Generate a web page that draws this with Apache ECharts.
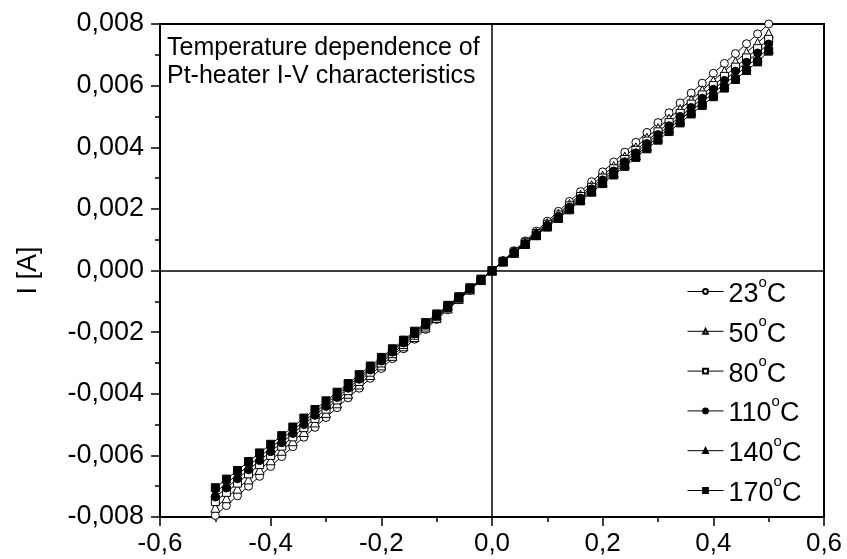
<!DOCTYPE html>
<html>
<head>
<meta charset="utf-8">
<script src="https://cdn.jsdelivr.net/npm/echarts@6/dist/echarts.min.js"></script>
<style>
  html, body { margin: 0; padding: 0; background: #fff; }
  #chart { width: 847px; height: 559px; }
</style>
</head>
<body>
<div id="chart"></div>
<script>
// voltage [V]
const voltage = [
  -0.50, -0.48, -0.46, -0.44, -0.42, -0.40, -0.38, -0.36, -0.34, -0.32,
  -0.30, -0.28, -0.26, -0.24, -0.22, -0.20, -0.18, -0.16, -0.14, -0.12,
  -0.10, -0.08, -0.06, -0.04, -0.02, 0.00, 0.02, 0.04, 0.06, 0.08,
  0.10, 0.12, 0.14, 0.16, 0.18, 0.20, 0.22, 0.24, 0.26, 0.28,
  0.30, 0.32, 0.34, 0.36, 0.38, 0.40, 0.42, 0.44, 0.46, 0.48, 0.50
];

const temperatures = [23, 50, 80, 110, 140, 170];

// current [A] for each temperature
const current23 = [
  -0.00795, -0.00763, -0.00731, -0.00700, -0.00668, -0.00636, -0.00604, -0.00572, -0.00541, -0.00509,
  -0.00477, -0.00445, -0.00413, -0.00382, -0.00350, -0.00318, -0.00286, -0.00254, -0.00223, -0.00191,
  -0.00159, -0.00127, -0.00095, -0.00064, -0.00032, 0.00000, 0.00032, 0.00064, 0.00096, 0.00128,
  0.00160, 0.00192, 0.00224, 0.00256, 0.00288, 0.00320, 0.00352, 0.00384, 0.00416, 0.00448,
  0.00480, 0.00512, 0.00544, 0.00576, 0.00608, 0.00640, 0.00672, 0.00704, 0.00736, 0.00768, 0.00800
];
const current50 = [
  -0.00770, -0.00739, -0.00708, -0.00678, -0.00647, -0.00616, -0.00585, -0.00554, -0.00524, -0.00493,
  -0.00462, -0.00431, -0.00400, -0.00370, -0.00339, -0.00308, -0.00277, -0.00246, -0.00216, -0.00185,
  -0.00154, -0.00123, -0.00092, -0.00062, -0.00031, 0.00000, 0.00031, 0.00062, 0.00092, 0.00123,
  0.00154, 0.00185, 0.00216, 0.00246, 0.00277, 0.00308, 0.00339, 0.00370, 0.00400, 0.00431,
  0.00462, 0.00493, 0.00524, 0.00554, 0.00585, 0.00616, 0.00647, 0.00678, 0.00708, 0.00739, 0.00770
];
const current80 = [
  -0.00750, -0.00720, -0.00690, -0.00660, -0.00630, -0.00600, -0.00570, -0.00540, -0.00510, -0.00480,
  -0.00450, -0.00420, -0.00390, -0.00360, -0.00330, -0.00300, -0.00270, -0.00240, -0.00210, -0.00180,
  -0.00150, -0.00120, -0.00090, -0.00060, -0.00030, 0.00000, 0.00030, 0.00060, 0.00090, 0.00120,
  0.00150, 0.00180, 0.00210, 0.00240, 0.00270, 0.00300, 0.00330, 0.00360, 0.00390, 0.00420,
  0.00450, 0.00480, 0.00510, 0.00540, 0.00570, 0.00600, 0.00630, 0.00660, 0.00690, 0.00720, 0.00750
];
const current110 = [
  -0.00735, -0.00706, -0.00676, -0.00647, -0.00617, -0.00588, -0.00559, -0.00529, -0.00500, -0.00470,
  -0.00441, -0.00412, -0.00382, -0.00353, -0.00323, -0.00294, -0.00265, -0.00235, -0.00206, -0.00176,
  -0.00147, -0.00118, -0.00088, -0.00059, -0.00029, 0.00000, 0.00029, 0.00059, 0.00088, 0.00118,
  0.00147, 0.00176, 0.00206, 0.00235, 0.00265, 0.00294, 0.00323, 0.00353, 0.00382, 0.00412,
  0.00441, 0.00470, 0.00500, 0.00529, 0.00559, 0.00588, 0.00617, 0.00647, 0.00676, 0.00706, 0.00735
];
const current140 = [
  -0.00720, -0.00691, -0.00662, -0.00634, -0.00605, -0.00576, -0.00547, -0.00518, -0.00490, -0.00461,
  -0.00432, -0.00403, -0.00374, -0.00346, -0.00317, -0.00288, -0.00259, -0.00230, -0.00202, -0.00173,
  -0.00144, -0.00115, -0.00086, -0.00058, -0.00029, 0.00000, 0.00029, 0.00058, 0.00086, 0.00115,
  0.00144, 0.00173, 0.00202, 0.00230, 0.00259, 0.00288, 0.00317, 0.00346, 0.00374, 0.00403,
  0.00432, 0.00461, 0.00490, 0.00518, 0.00547, 0.00576, 0.00605, 0.00634, 0.00662, 0.00691, 0.00720
];
const current170 = [
  -0.00705, -0.00677, -0.00649, -0.00620, -0.00592, -0.00564, -0.00536, -0.00508, -0.00479, -0.00451,
  -0.00423, -0.00395, -0.00367, -0.00338, -0.00310, -0.00282, -0.00254, -0.00226, -0.00197, -0.00169,
  -0.00141, -0.00113, -0.00085, -0.00056, -0.00028, 0.00000, 0.00028, 0.00056, 0.00085, 0.00113,
  0.00141, 0.00169, 0.00197, 0.00226, 0.00254, 0.00282, 0.00310, 0.00338, 0.00367, 0.00395,
  0.00423, 0.00451, 0.00479, 0.00508, 0.00536, 0.00564, 0.00592, 0.00620, 0.00649, 0.00677, 0.00712
];

const currents = [current23, current50, current80, current110, current140, current170];
const symbols = ['circle', 'triangle', 'rect', 'circle', 'triangle', 'rect'];
const filled = [false, false, false, true, true, true];
const symbolSizes = [8, 9, 8, 8, 9, 8];

const FONT = '"Liberation Sans", Arial, sans-serif';

const series = temperatures.map((t, i) => ({
  name: t + '°C',
  type: 'line',
  data: voltage.map((v, k) => [v, currents[i][k]]),
  symbol: symbols[i],
  symbolSize: symbolSizes[i],
  showAllSymbol: true,
  lineStyle: { color: '#000', width: 1 },
  itemStyle: {
    color: filled[i] ? '#000' : '#fff',
    borderColor: '#000',
    borderWidth: 1
  },
  emphasis: { disabled: true },
  z: 3
}));

// zero lines through the origin
series.push({
  type: 'line',
  data: [],
  silent: true,
  markLine: {
    silent: true,
    symbol: 'none',
    label: { show: false },
    lineStyle: { color: '#000', width: 1.5, type: 'solid' },
    data: [{ xAxis: 0 }, { yAxis: 0 }]
  },
  z: 1
});

const chart = echarts.init(document.getElementById('chart'));
chart.setOption({
  animation: false,
  backgroundColor: '#fff',
  textStyle: { fontFamily: FONT, color: '#000' },
  grid: {
    left: 160, right: 23, top: 24, bottom: 42,
    show: true, borderColor: '#000', borderWidth: 2
  },
  title: {
    text: 'Temperature dependence of\nPt-heater I-V characteristics',
    left: 162, top: 29,
    textStyle: { fontFamily: FONT, fontSize: 25, fontWeight: 'normal', color: '#000', lineHeight: 28 }
  },
  legend: {
    orient: 'vertical',
    left: 682, top: 270,
    itemWidth: 36, itemHeight: 6,
    itemGap: 6.8,
    data: temperatures.map(t => t + '°C'),
    lineStyle: { width: 1 },
    formatter: name => '{n|' + name.replace('°C', '') + '}{s|o}{n|C}',
    textStyle: {
      rich: {
        n: { fontFamily: FONT, fontSize: 27, color: '#000', padding: [6, 0, 0, 0] },
        s: { fontFamily: FONT, fontSize: 15, color: '#000', verticalAlign: 'top' }
      }
    }
  },
  xAxis: {
    type: 'value',
    min: -0.6, max: 0.6, interval: 0.2,
    axisLine: { onZero: false, lineStyle: { color: '#000', width: 2 } },
    axisTick: { inside: false, length: 9, lineStyle: { color: '#000', width: 1.5 } },
    minorTick: { show: true, splitNumber: 2, length: 5, lineStyle: { color: '#000', width: 1.5 } },
    splitLine: { show: false },
    axisLabel: {
      fontFamily: FONT, fontSize: 26, color: '#000', margin: 14,
      formatter: v => v.toFixed(1).replace('.', ',')
    }
  },
  yAxis: {
    type: 'value',
    min: -0.008, max: 0.008, interval: 0.002,
    name: 'I [A]',
    nameLocation: 'middle',
    nameGap: 118,
    nameTextStyle: { fontFamily: FONT, fontSize: 27, color: '#000' },
    axisLine: { onZero: false, lineStyle: { color: '#000', width: 2 } },
    axisTick: { inside: false, length: 9, lineStyle: { color: '#000', width: 1.5 } },
    minorTick: { show: true, splitNumber: 2, length: 5, lineStyle: { color: '#000', width: 1.5 } },
    splitLine: { show: false },
    axisLabel: {
      fontFamily: FONT, fontSize: 27, color: '#000', margin: 16,
      formatter: v => v.toFixed(3).replace('.', ',').replace('-0,000', '0,000')
    }
  },
  series: series
});
</script>
</body>
</html>
